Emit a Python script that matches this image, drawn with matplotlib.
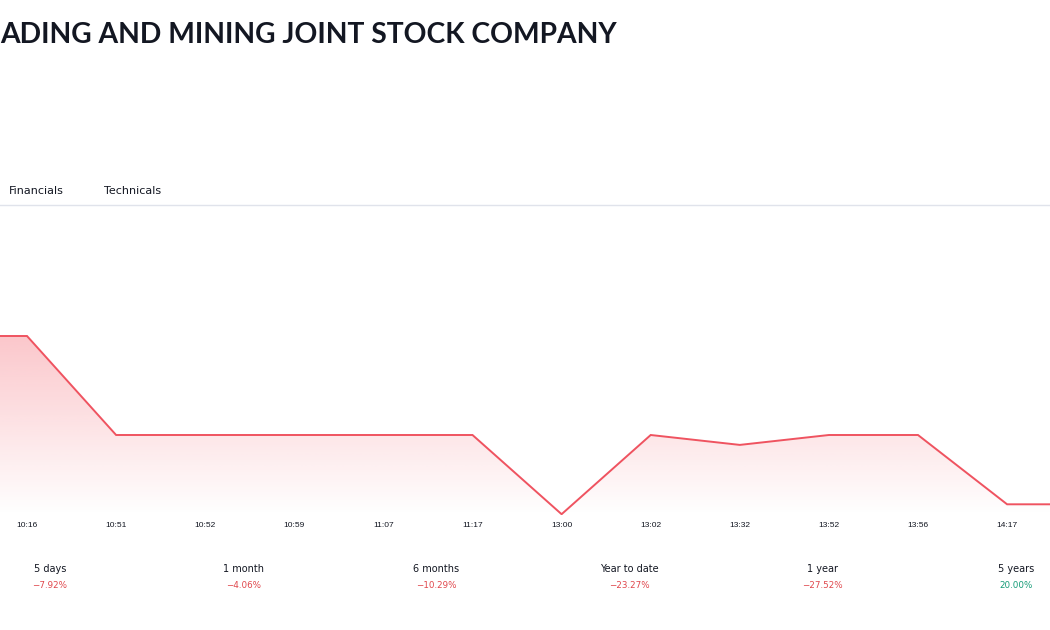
import matplotlib
matplotlib.use("Agg")
import matplotlib.pyplot as plt
import numpy as np
from matplotlib.colors import to_rgb

# intraday prices; first and last point sit just outside the visible window
times = ["", "10:16", "10:51", "10:52", "10:59", "11:07", "11:17",
         "13:00", "13:02", "13:32", "13:52", "13:56", "14:17", ""]
prices = [12.0, 12.0, 11.0, 11.0, 11.0, 11.0, 11.0,
          10.2, 11.0, 10.9, 11.0, 11.0, 10.3, 10.3]

periods = ["5 days", "1 month", "6 months", "Year to date", "1 year", "5 years"]
changes = [-7.92, -4.06, -10.29, -23.27, -27.52, 20.00]

title = "ADING AND MINING JOINT STOCK COMPANY"
tabs = ["Financials", "Technicals"]

W, H = 1050, 630
fig = plt.figure(figsize=(W / 100, H / 100), dpi=100)
fig.patch.set_facecolor("white")


def fx(px):
    return px / W


def fy(py):
    return 1 - py / H


# title, fitted to the width seen in the reference
t = fig.text(fx(0), fy(35), title, fontsize=25, fontweight="bold",
             family="Lato", color="#131722", va="center", ha="left")
fig.canvas.draw()
w = t.get_window_extent().width
t.set_fontsize(25 * 618 / w)

fig.text(fx(9), fy(191), tabs[0], fontsize=8.0, family="DejaVu Sans",
         color="#131722", va="center", ha="left")
fig.text(fx(104), fy(191), tabs[1], fontsize=8.0, family="DejaVu Sans",
         color="#131722", va="center", ha="left")
fig.add_artist(plt.Line2D([0, 1], [fy(205.5), fy(205.5)], color="#e0e3eb", lw=1))

# chart area
ax = fig.add_axes([0, fy(515), 1, (515 - 215) / H])
x = np.arange(len(prices)) - 1
line_color = "#ef5360"
ax.plot(x, prices, color=line_color, lw=1.4, solid_joinstyle="miter")

x0, x1 = -27 / 89.1, (1050 - 27) / 89.1
y0, y1 = 11.0 - 80 / 99, 11.0 + 220 / 99
ax.set_xlim(x0, x1)
ax.set_ylim(y0, y1)

poly = ax.fill_between(x, prices, y0, color="none", lw=0)
r, g, b = to_rgb("#f23645")
grad = np.zeros((256, 2, 4))
grad[..., 0], grad[..., 1], grad[..., 2] = r, g, b
grad[..., 3] = np.linspace(0.28, 0.0, 256)[:, None]
img = ax.imshow(grad, extent=[x0, x1, y0, max(prices)], origin="upper",
                aspect="auto", zorder=1)
img.set_clip_path(poly.get_paths()[0], transform=ax.transData)

tick_idx = [i for i, s in enumerate(times) if s]
ax.set_xticks([x[i] for i in tick_idx])
ax.set_xticklabels([times[i] for i in tick_idx], fontsize=6,
                   family="Liberation Sans", color="#131722")
ax.tick_params(axis="x", length=0, pad=5)
ax.set_yticks([])
for s in ax.spines.values():
    s.set_visible(False)

# performance strip
for i, (p, c) in enumerate(zip(periods, changes)):
    cx = 50 + 193.2 * i
    fig.text(fx(cx), fy(569), p, fontsize=7.0, family="DejaVu Sans",
             color="#131722", ha="center", va="center")
    col = "#e0474c" if c < 0 else "#169c78"
    txt = f"\u2212{abs(c):.2f}%" if c < 0 else f"{c:.2f}%"
    fig.text(fx(cx), fy(585), txt, fontsize=6.3, family="DejaVu Sans",
             color=col, ha="center", va="center")

fig.savefig("out.png", dpi=100)
